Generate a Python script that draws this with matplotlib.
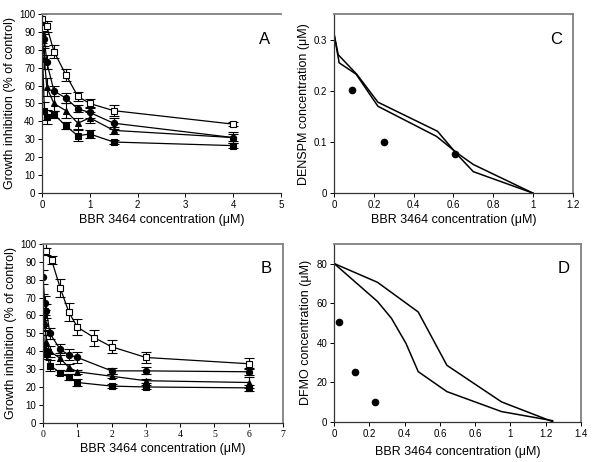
import matplotlib
matplotlib.use("Agg")
import matplotlib.pyplot as plt

plt.rcParams['font.family'] = ['Liberation Sans', 'DejaVu Sans']

# Panel A - BBR 3464 + DENSPM
a_x = [0, 0.05, 0.1, 0.25, 0.5, 0.75, 1, 1.5, 4]
a_open = [97, 92, 93, 79, 66, 54, 50, 46, 38.5]
a_open_err = [3, 3, 3, 3.5, 3.5, 2.5, 2.5, 3, 1]
a_circ = [88, 86, 73, 57, 53, 47, 45, 39, 31]
a_circ_err = [4, 4, 4, 3, 3, 2, 3, 3, 3]
a_tri = [87, 75, 59, 50, 46, 39, 42, 35, 31]
a_tri_err = [5, 6, 5, 4, 4, 3, 3, 2, 2]
a_sq = [86, 46, 42.5, 44, 37.5, 32, 33, 28.5, 26.5]
a_sq_err = [4, 5, 4, 2, 2, 3, 2, 1, 1.5]

# Panel B - BBR 3464 + DFMO
b_x_open = [0, 0.1, 0.25, 0.5, 0.75, 1, 1.5, 2, 3, 6]
b_open = [99, 96, 91, 75.5, 62, 53.5, 47.5, 42.5, 36.5, 33]
b_open_err = [2, 2, 2, 5, 5, 4.5, 4.5, 3.5, 3, 3]
b_x = [0, 0.05, 0.1, 0.2, 0.5, 0.75, 1, 2, 3, 6]
b_circ = [81.5, 67, 62.5, 50, 41, 38, 36.5, 29, 29, 28.5]
b_circ_err = [4, 4, 4, 3, 3, 3, 3, 1.5, 2, 2]
b_tri = [68, 56, 45, 40, 36, 31, 28.5, 26, 23.5, 22.5]
b_tri_err = [4, 4, 4, 3, 3, 2, 1, 1, 1, 3]
b_sq = [54.5, 40, 38.5, 32, 28, 25.5, 22.5, 20.5, 20, 19.5]
b_sq_err = [3, 3, 3, 3, 1.5, 1.5, 2, 1, 1, 1.5]

# Panel C - isobologram DENSPM
c_line1_x = [0, 0.02, 0.115, 0.22, 0.52, 0.62, 0.70, 1.0]
c_line1_y = [0.31, 0.271, 0.232, 0.178, 0.121, 0.075, 0.042, 0]
c_line2_x = [0, 0.025, 0.11, 0.22, 0.515, 0.62, 0.70, 1.0]
c_line2_y = [0.31, 0.255, 0.233, 0.17, 0.111, 0.078, 0.056, 0]
c_pts_x = [0.088, 0.25, 0.607]
c_pts_y = [0.201, 0.101, 0.076]

# Panel D - isobologram DFMO
d_line1_x = [0, 0.246, 0.477, 0.64, 0.95, 1.24]
d_line1_y = [80, 70.5, 55.5, 28.5, 10, 0]
d_line2_x = [0, 0.246, 0.325, 0.407, 0.477, 0.64, 0.95, 1.24]
d_line2_y = [80, 60.8, 52.3, 39.7, 25.3, 15.2, 5.1, 0.5]
d_pts_x = [0.028, 0.119, 0.233]
d_pts_y = [50.3, 25.3, 10.1]
d_tick_labels = ['0', '0.2', '0.4', '0.6', '0.6', '1', '1.2', '1.4']

xlab = 'BBR 3464 concentration (\u03bcM)'
LW = 0.9
MS = 4.5
FS_LAB = 9
FS_TICK = 7


def estilo(ax, frame_right=True):
    for s in ['left', 'bottom']:
        ax.spines[s].set_color('#333333')
        ax.spines[s].set_linewidth(0.9)
    for s in ['top', 'right']:
        ax.spines[s].set_color('#808080')
        ax.spines[s].set_linewidth(1.3)
    if not frame_right:
        ax.spines['right'].set_visible(False)
    ax.tick_params(direction='out', length=3, width=0.7, labelsize=FS_TICK, pad=2)


def curva(ax, x, y, err, marker, fill):
    ax.errorbar(x, y, yerr=err, color='black', lw=LW, marker=marker, ms=MS,
                mfc=fill, mec='black', mew=0.8, capsize=3.5, elinewidth=0.8,
                capthick=0.8)


fig = plt.figure(figsize=(6, 4.62), dpi=100)

# ---- A
ax = fig.add_axes([0.07, 0.582, 0.398, 0.388])
curva(ax, a_x, a_open, a_open_err, 's', 'white')
curva(ax, a_x, a_circ, a_circ_err, 'o', 'black')
curva(ax, a_x, a_tri, a_tri_err, '^', 'black')
curva(ax, a_x, a_sq, a_sq_err, 's', 'black')
ax.set_xlim(0, 5)
ax.set_ylim(0, 100)
ax.set_xticks(range(0, 6))
ax.set_yticks(range(0, 101, 10))
ax.set_xlabel(xlab, fontsize=FS_LAB, labelpad=3)
ax.set_ylabel('Growth inhibition (% of control)', fontsize=FS_LAB, labelpad=2)
ax.text(0.93, 0.855, 'A', transform=ax.transAxes, fontsize=12, ha='center', va='center')
estilo(ax, frame_right=False)

# ---- B
ax = fig.add_axes([0.0717, 0.085, 0.4, 0.387])
curva(ax, b_x_open, b_open, b_open_err, 's', 'white')
curva(ax, b_x, b_circ, b_circ_err, 'o', 'black')
curva(ax, b_x, b_tri, b_tri_err, '^', 'black')
curva(ax, b_x, b_sq, b_sq_err, 's', 'black')
ax.set_xlim(0, 7)
ax.set_ylim(0, 100)
ax.set_xticks(range(0, 8))
ax.set_yticks(range(0, 101, 10))
for t in ax.get_xticklabels():
    t.set_family('Liberation Serif')
ax.set_xlabel(xlab, fontsize=FS_LAB, labelpad=3)
ax.set_ylabel('Growth inhibition (% of control)', fontsize=FS_LAB, labelpad=2)
ax.text(0.93, 0.865, 'B', transform=ax.transAxes, fontsize=12, ha='center', va='center')
estilo(ax)

# ---- C
ax = fig.add_axes([0.557, 0.582, 0.3975, 0.387])
ax.plot(c_line1_x, c_line1_y, color='black', lw=1.1)
ax.plot(c_line2_x, c_line2_y, color='black', lw=1.1)
ax.plot(c_pts_x, c_pts_y, 'o', color='black', ms=MS)
ax.set_xlim(0, 1.2)
ax.set_ylim(0, 0.35)
ax.set_xticks([0, 0.2, 0.4, 0.6, 0.8, 1, 1.2])
ax.set_xticklabels(['0', '0.2', '0.4', '0.6', '0.8', '1', '1.2'])
ax.set_yticks([0, 0.1, 0.2, 0.3])
ax.set_yticklabels(['0', '0.1', '0.2', '0.3'])
ax.set_xlabel(xlab, fontsize=FS_LAB, labelpad=3)
ax.set_ylabel('DENSPM concentration (\u03bcM)', fontsize=FS_LAB, labelpad=3)
ax.text(0.93, 0.86, 'C', transform=ax.transAxes, fontsize=12, ha='center', va='center')
estilo(ax)

# ---- D
ax = fig.add_axes([0.557, 0.0873, 0.411, 0.385])
ax.plot(d_line1_x, d_line1_y, color='black', lw=1.1)
ax.plot(d_line2_x, d_line2_y, color='black', lw=1.1)
ax.plot(d_pts_x, d_pts_y, 'o', color='black', ms=MS)
ax.set_xlim(0, 1.4)
ax.set_ylim(0, 90)
ax.set_xticks([0, 0.2, 0.4, 0.6, 0.8, 1, 1.2, 1.4])
ax.set_xticklabels(d_tick_labels)
ax.set_yticks([0, 20, 40, 60, 80])
ax.set_xlabel(xlab, fontsize=FS_LAB, labelpad=5)
ax.set_ylabel('DFMO concentration (\u03bcM)', fontsize=FS_LAB, labelpad=3)
ax.text(0.93, 0.86, 'D', transform=ax.transAxes, fontsize=12, ha='center', va='center')
estilo(ax)

fig.savefig('out.png', dpi=100)
